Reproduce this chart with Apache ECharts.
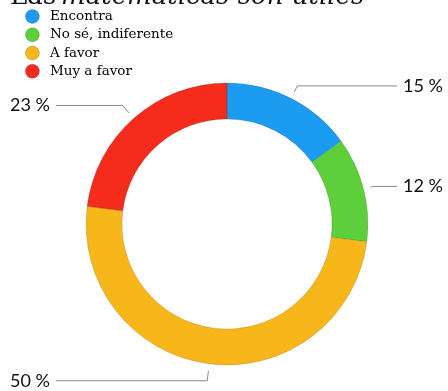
<!DOCTYPE html>
<html>
<head>
<meta charset="utf-8">
<script src="https://cdn.jsdelivr.net/npm/echarts@6/dist/echarts.min.js"></script>
<style>
  html, body { margin: 0; padding: 0; background: #ffffff; }
  #chart { width: 448px; height: 391px; }
</style>
</head>
<body>
<div id="chart"></div>
<script>
// Survey answers for "Las matemáticas son útiles" (percent of respondents)
const categories = ['Encontra', 'No sé, indiferente', 'A favor', 'Muy a favor'];
const percents = [15, 12, 50, 23];
const colors = ['#1c9cf1', '#5ccf3b', '#f7b71a', '#f52b1b'];
// Per-slice length of the radial part of each leader line
const leaderLengths = [7, 3, 10, 10];

const titleFirstWord = 'Las';
const titleRest = 'matemáticas son útiles';

const chart = echarts.init(document.getElementById('chart'), null, { renderer: 'canvas' });

const ringData = categories.map((name, i) => ({
  name: name,
  value: percents[i],
  itemStyle: { color: colors[i] }
}));

const labelData = categories.map((name, i) => ({
  name: name,
  value: percents[i],
  labelLine: { length: leaderLengths[i] }
}));

const option = {
  animation: false,
  backgroundColor: '#ffffff',
  title: {
    text: '{a|' + titleFirstWord + '} {b|' + titleRest + '}',
    left: 5,
    top: -21,
    textStyle: {
      rich: {
        a: { fontFamily: 'DejaVu Serif', fontSize: 26, color: '#111', fontWeight: 'normal' },
        b: { fontFamily: 'DejaVu Serif', fontSize: 26, color: '#111', fontStyle: 'italic', fontWeight: 'normal' }
      }
    }
  },
  legend: {
    orient: 'vertical',
    left: 20,
    top: 4,
    icon: 'circle',
    itemWidth: 25,
    itemHeight: 14,
    itemGap: 3.5,
    data: categories,
    itemStyle: { borderColor: 'rgba(0,0,0,0.2)', borderWidth: 0.8 },
    textStyle: { fontFamily: 'DejaVu Serif', fontSize: 13.5, lineHeight: 14, color: '#000' }
  },
  series: [
    {
      type: 'pie',
      left: 10,
      right: 5,
      top: 0,
      bottom: 0,
      center: [217, 224],
      radius: [105, 141],
      startAngle: 90,
      clockwise: true,
      silent: true,
      label: { show: false },
      labelLine: { show: false },
      itemStyle: { borderColor: 'rgba(0,0,0,0.18)', borderWidth: 0.7 },
      data: ringData
    },
    {
      // thin invisible ring that only carries the percentage labels,
      // so the leader lines start just outside the donut
      type: 'pie',
      left: 10,
      right: 5,
      top: 0,
      bottom: 0,
      center: [217, 224],
      radius: [147, 148],
      startAngle: 90,
      clockwise: true,
      silent: true,
      legendHoverLink: false,
      itemStyle: { color: 'rgba(0,0,0,0)' },
      label: {
        show: true,
        position: 'outside',
        alignTo: 'edge',
        edgeDistance: 0,
        formatter: '{c} %',
        fontFamily: 'Lato',
        fontSize: 18,
        color: '#111',
        distanceToLabelLine: 6
      },
      labelLine: {
        show: true,
        length: 10,
        length2: 10,
        lineStyle: { color: '#8a8a8a', width: 1 }
      },
      data: labelData
    }
  ]
};

chart.setOption(option);
</script>
</body>
</html>
